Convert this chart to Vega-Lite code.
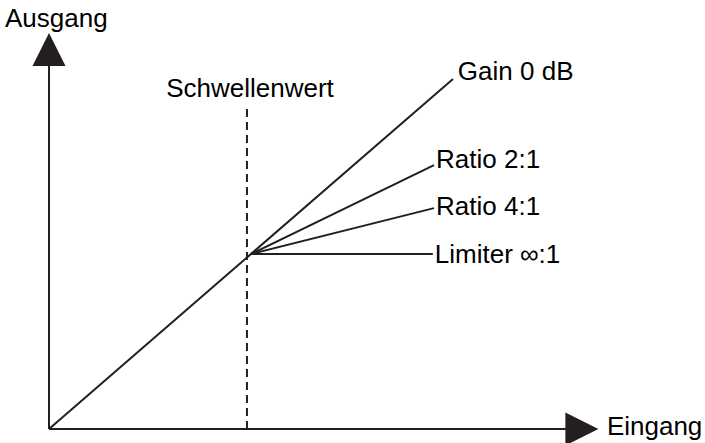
{
  "$schema": "https://vega.github.io/schema/vega-lite/v6.json",
  "width": 705,
  "height": 443,
  "autosize": {"type": "none"},
  "padding": 0,
  "background": "white",
  "config": {"view": {"stroke": null}},
  "datasets": {
    "segments": [
      {"series": "Eingang-Achse", "x": 0, "y": 0},
      {"series": "Eingang-Achse", "x": 128, "y": 0},
      {"series": "Ausgang-Achse", "x": 0, "y": 0},
      {"series": "Ausgang-Achse", "x": 0, "y": 104},
      {"series": "Gain 0 dB", "x": 0, "y": 0},
      {"series": "Gain 0 dB", "x": 100, "y": 100},
      {"series": "Ratio 2:1", "x": 50, "y": 50},
      {"series": "Ratio 2:1", "x": 95.3, "y": 75.4},
      {"series": "Ratio 4:1", "x": 50, "y": 50},
      {"series": "Ratio 4:1", "x": 95.3, "y": 63.1},
      {"series": "Limiter", "x": 50, "y": 50},
      {"series": "Limiter", "x": 95, "y": 50}
    ],
    "threshold": [{"x": 49, "y": 0, "y2": 92.6}],
    "thresholdLabel": [{"text": "Schwellenwert", "x": 49.75, "y": 94.9}],
    "arrows": [
      {"dir": "up", "x": 0, "y": 108.4},
      {"dir": "right", "x": 131.9, "y": 0}
    ],
    "labels": [
      {"text": "Gain 0 dB", "x": 101.2, "y": 99.7},
      {"text": "Ratio 2:1", "x": 95.8, "y": 74.6},
      {"text": "Ratio 4:1", "x": 95.8, "y": 61.1},
      {"text": "Limiter ∞:1", "x": 95.5, "y": 47.4},
      {"text": "Ausgang", "x": -10.9, "y": 114.9},
      {"text": "Eingang", "x": 138.1, "y": -1.7}
    ]
  },
  "encoding": {
    "x": {"field": "x", "type": "quantitative", "axis": null, "scale": {"domain": [-12.13, 162.38], "nice": false, "zero": false}},
    "y": {"field": "y", "type": "quantitative", "axis": null, "scale": {"domain": [-4, 122.57], "nice": false, "zero": false}}
  },
  "layer": [
    {
      "data": {"name": "segments"},
      "mark": {"type": "line", "color": "#231f20", "strokeWidth": 2, "strokeCap": "butt"},
      "encoding": {"detail": {"field": "series", "type": "nominal"}, "order": {"field": "x", "type": "quantitative"}}
    },
    {
      "data": {"name": "threshold"},
      "mark": {"type": "rule", "color": "#231f20", "strokeWidth": 2, "strokeDash": [8, 5]},
      "encoding": {"y2": {"field": "y2"}}
    },
    {
      "data": {"name": "arrows"},
      "mark": {"type": "point", "filled": true, "color": "#231f20", "opacity": 1, "size": 1089},
      "encoding": {
        "shape": {"field": "dir", "type": "nominal", "legend": null, "scale": {"domain": ["up", "right"], "range": ["M0,-1L1,1L-1,1Z", "M-1,-1L1,0L-1,1Z"]}}
      }
    },
    {
      "data": {"name": "labels"},
      "mark": {"type": "text", "font": "Liberation Sans", "fontSize": 26, "color": "#000000", "align": "left", "baseline": "alphabetic"},
      "encoding": {"text": {"field": "text"}}
    },
    {
      "data": {"name": "thresholdLabel"},
      "mark": {"type": "text", "font": "Liberation Sans", "fontSize": 26, "color": "#000000", "align": "center", "baseline": "alphabetic"},
      "encoding": {"text": {"field": "text"}}
    }
  ]
}
